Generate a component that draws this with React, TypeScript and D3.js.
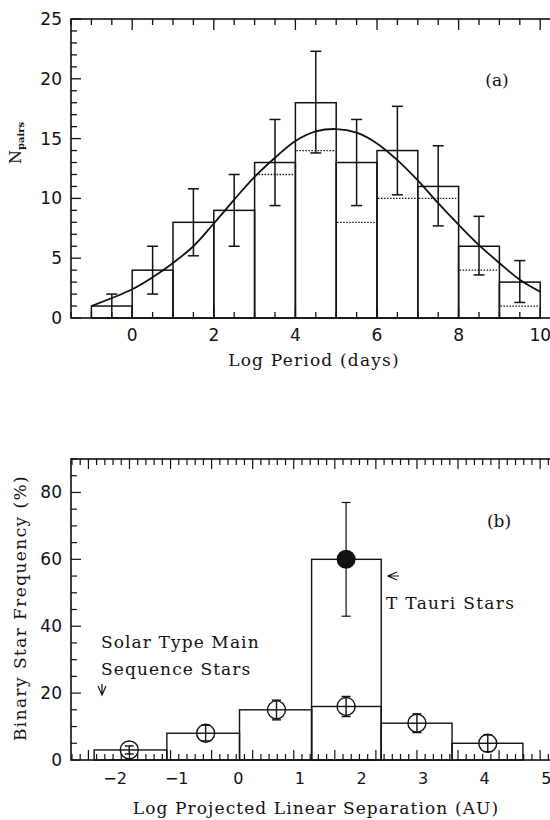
import React from "react";
import * as d3 from "d3";

// ---------- Panel (a) data ----------
const aBinEdges = [-1, 0, 1, 2, 3, 4, 5, 6, 7, 8, 9, 10];
const aCounts = [1, 4, 8, 9, 13, 18, 13, 14, 11, 6, 3];
const aDotted: (number | null)[] = [null, null, null, null, 12, 14, 8, 10, 10, 4, 1];
const aErrLo = [0, 2, 5.2, 6, 9.4, 13.8, 9.4, 10.3, 7.7, 3.6, 1.3];
const aErrHi = [2, 6, 10.8, 12, 16.6, 22.3, 16.6, 17.7, 14.4, 8.5, 4.8];
const aCurveX = [-1, 0, 0.5, 1, 1.5, 2, 2.5, 3, 3.5, 4, 4.5, 5, 5.5, 6, 6.5, 7, 7.5, 8, 8.5, 9, 9.5, 10];
const aCurveY = [1.0, 2.4, 3.4, 4.6, 6.0, 7.9, 9.9, 11.8, 13.4, 14.8, 15.6, 15.8, 15.5, 14.6, 13.2, 11.5, 9.6, 7.8, 6.1, 4.6, 3.2, 2.2];
const aXTicks = [0, 2, 4, 6, 8, 10];
const aYTicks = [0, 5, 10, 15, 20, 25];

// ---------- Panel (b) data ----------
const bBinEdges = [-2.34, -1.16, 0.02, 1.19, 2.32, 3.47, 4.62];
const bHeights = [3, 8, 15, 16, 11, 5];
const bPointX = [-1.77, -0.53, 0.62, 1.75, 2.9, 4.05];
const bPointY = [3, 8, 15, 16, 11, 5];
const bErrLo = [1.8, 5.7, 12, 13, 8.2, 2.5];
const bErrHi = [4.2, 10.4, 17.9, 19, 13.8, 7.5];
const tTauriBin = 3; // index into bins
const tTauriY = 60;
const tTauriX = 1.75;
const tTauriErr = [43, 77];
const bXTicks = [-2, -1, 0, 1, 2, 3, 4, 5];
const bYTicks = [0, 20, 40, 60, 80];

const NUM_FONT = "'DejaVu Sans', sans-serif";
const TXT_FONT = "'DejaVu Serif', serif";

export default function App() {
  // Scales panel (a)
  const xa = d3.scaleLinear().domain([-1.5, 10.5]).range([71, 71 + 12 * 40.8]);
  const ya = d3.scaleLinear().domain([0, 25]).range([318, 19]);
  // Scales panel (b)
  const xb = d3.scaleLinear().domain([0, 1]).range([238.3, 299.9]);
  const yb = d3.scaleLinear().domain([0, 90]).range([760, 459]);

  const lineA = d3
    .line<number>()
    .x((_, i) => xa(aCurveX[i]))
    .y((d) => ya(d))
    .curve(d3.curveCatmullRom);

  const stroke = "#111";

  const aMinorX = d3.range(-1.5, 10.51, 0.5);
  const aMinorY = d3.range(0, 25.01, 1);
  const bMinorX = d3.range(-2.7, 5.6, 2 / 15);
  const bMinorY = d3.range(0, 90.01, 5);

  const axLeftA = xa.range()[0];
  const axTopA = ya.range()[1];
  const axBotA = ya.range()[0];
  const axRightA = xa.range()[1];
  const axLeftB = 71;
  const axTopB = yb.range()[1];
  const axBotB = yb.range()[0];
  const axRightB = 580;

  return (
    <svg
      width={550}
      height={820}
      style={{ position: "absolute", left: 0, top: 0, background: "#fff" }}
    >
      <rect x={0} y={0} width={550} height={820} fill="#fff" />
      {/* ================= Panel (a) ================= */}
      <g>
        <rect
          x={axLeftA}
          y={axTopA}
          width={axRightA - axLeftA}
          height={axBotA - axTopA}
          fill="none"
          stroke={stroke}
          strokeWidth={1.6}
        />
        {aMinorX.map((v, i) => {
          const major = Math.abs(v / 2 - Math.round(v / 2)) < 1e-6;
          const len = major ? 11 : 6;
          return (
            <g key={"ax" + i}>
              <line x1={xa(v)} x2={xa(v)} y1={axTopA} y2={axTopA + len} stroke={stroke} strokeWidth={1.3} />
              <line x1={xa(v)} x2={xa(v)} y1={axBotA} y2={axBotA - len} stroke={stroke} strokeWidth={1.3} />
            </g>
          );
        })}
        {aMinorY.map((v, i) => {
          const major = v % 5 === 0;
          const len = major ? 10 : 6;
          return (
            <line key={"ay" + i} x1={axLeftA} x2={axLeftA + len} y1={ya(v)} y2={ya(v)} stroke={stroke} strokeWidth={1.3} />
          );
        })}
        {aXTicks.map((v) => (
          <text key={"axl" + v} x={xa(v)} y={341} textAnchor="middle" fontFamily={NUM_FONT} fontSize={17} fill={stroke}>
            {v}
          </text>
        ))}
        {aYTicks.map((v) => (
          <text key={"ayl" + v} x={62} y={ya(v) + 6} textAnchor="end" fontFamily={NUM_FONT} fontSize={17} fill={stroke}>
            {v}
          </text>
        ))}
        {aCounts.map((c, i) => (
          <rect
            key={"ab" + i}
            x={xa(aBinEdges[i])}
            y={ya(c)}
            width={xa(aBinEdges[i + 1]) - xa(aBinEdges[i])}
            height={ya(0) - ya(c)}
            fill="none"
            stroke={stroke}
            strokeWidth={1.5}
          />
        ))}
        {aDotted.map((c, i) =>
          c === null ? null : (
            <line
              key={"ad" + i}
              x1={xa(aBinEdges[i]) + 1}
              x2={xa(aBinEdges[i + 1]) - 1}
              y1={ya(c)}
              y2={ya(c)}
              stroke={stroke}
              strokeWidth={1.3}
              strokeDasharray="1.5,1.5"
            />
          )
        )}
        {aCounts.map((_, i) => {
          const cx = xa((aBinEdges[i] + aBinEdges[i + 1]) / 2);
          return (
            <g key={"ae" + i} stroke={stroke} strokeWidth={1.5}>
              <line x1={cx} x2={cx} y1={ya(aErrLo[i])} y2={ya(aErrHi[i])} />
              <line x1={cx - 5.5} x2={cx + 5.5} y1={ya(aErrLo[i])} y2={ya(aErrLo[i])} />
              <line x1={cx - 5.5} x2={cx + 5.5} y1={ya(aErrHi[i])} y2={ya(aErrHi[i])} />
            </g>
          );
        })}
        <path d={lineA(aCurveY) || ""} fill="none" stroke={stroke} strokeWidth={1.8} />
        <text x={497} y={86} textAnchor="middle" fontFamily={TXT_FONT} fontSize={17} fill={stroke}>
          (a)
        </text>
        <text x={314} y={366} textAnchor="middle" fontFamily={TXT_FONT} fontSize={17} letterSpacing={1.2} fill={stroke}>
          Log Period (days)
        </text>
        <text transform="translate(21,164) rotate(-90)" fontFamily={TXT_FONT} fontSize={16} fill={stroke}>
          N
          <tspan fontSize={10} dy={3} fontWeight="bold">
            pairs
          </tspan>
        </text>
      </g>

      {/* ================= Panel (b) ================= */}
      <g>
        <rect
          x={axLeftB}
          y={axTopB}
          width={axRightB - axLeftB}
          height={axBotB - axTopB}
          fill="none"
          stroke={stroke}
          strokeWidth={1.6}
        />
        {bMinorX.map((v, i) => {
          const major = i % 5 === 2;
          const len = major ? 10 : 6;
          return (
            <g key={"bx" + i}>
              <line x1={xb(v)} x2={xb(v)} y1={axTopB} y2={axTopB + len} stroke={stroke} strokeWidth={1.2} />
              <line x1={xb(v)} x2={xb(v)} y1={axBotB} y2={axBotB - len} stroke={stroke} strokeWidth={1.2} />
            </g>
          );
        })}
        {bMinorY.map((v, i) => {
          const major = v % 20 === 0;
          const len = major ? 10 : 6;
          return (
            <line key={"by" + i} x1={axLeftB} x2={axLeftB + len} y1={yb(v)} y2={yb(v)} stroke={stroke} strokeWidth={1.2} />
          );
        })}
        {bXTicks.map((v) => (
          <text key={"bxl" + v} x={xb(v)} y={784} textAnchor="middle" fontFamily={NUM_FONT} fontSize={16} fill={stroke}>
            {v < 0 ? "\u2212" + Math.abs(v) : v}
          </text>
        ))}
        {bYTicks.map((v) => (
          <text key={"byl" + v} x={62} y={yb(v) + 6} textAnchor="end" fontFamily={NUM_FONT} fontSize={17} fill={stroke}>
            {v}
          </text>
        ))}
        {bHeights.map((h, i) => (
          <rect
            key={"bb" + i}
            x={xb(bBinEdges[i])}
            y={yb(h)}
            width={xb(bBinEdges[i + 1]) - xb(bBinEdges[i])}
            height={yb(0) - yb(h)}
            fill="none"
            stroke={stroke}
            strokeWidth={1.4}
          />
        ))}
        <rect
          x={xb(bBinEdges[tTauriBin])}
          y={yb(tTauriY)}
          width={xb(bBinEdges[tTauriBin + 1]) - xb(bBinEdges[tTauriBin])}
          height={yb(0) - yb(tTauriY)}
          fill="none"
          stroke={stroke}
          strokeWidth={1.4}
        />
        {bPointX.map((px, i) => {
          const cx = xb(px);
          return (
            <g key={"bp" + i} stroke={stroke} strokeWidth={1.4}>
              <circle cx={cx} cy={yb(bPointY[i])} r={9} fill="none" />
              <line x1={cx} x2={cx} y1={yb(bErrLo[i])} y2={yb(bErrHi[i])} />
              <line x1={cx - 4.5} x2={cx + 4.5} y1={yb(bErrLo[i])} y2={yb(bErrLo[i])} />
              <line x1={cx - 4.5} x2={cx + 4.5} y1={yb(bErrHi[i])} y2={yb(bErrHi[i])} />
            </g>
          );
        })}
        <g stroke={stroke} strokeWidth={1.2}>
          <line x1={xb(tTauriX)} x2={xb(tTauriX)} y1={yb(tTauriErr[0])} y2={yb(tTauriErr[1])} />
          <line x1={xb(tTauriX) - 4.5} x2={xb(tTauriX) + 4.5} y1={yb(tTauriErr[0])} y2={yb(tTauriErr[0])} />
          <line x1={xb(tTauriX) - 4.5} x2={xb(tTauriX) + 4.5} y1={yb(tTauriErr[1])} y2={yb(tTauriErr[1])} />
        </g>
        <circle cx={xb(tTauriX)} cy={yb(tTauriY)} r={9.5} fill={stroke} />
        <text x={499} y={527} textAnchor="middle" fontFamily={TXT_FONT} fontSize={17} fill={stroke}>
          (b)
        </text>
        <path d="M 397 572 L 388 576 L 397 580 M 388 576 L 399 576" fill="none" stroke={stroke} strokeWidth={1.2} />
        <text x={386} y={609} fontFamily={TXT_FONT} fontSize={17} letterSpacing={1.3} fill={stroke}>
          T Tauri Stars
        </text>
        <text x={101} y={648} fontFamily={TXT_FONT} fontSize={17} letterSpacing={1.1} fill={stroke}>
          Solar Type Main
        </text>
        <text x={101} y={675} fontFamily={TXT_FONT} fontSize={17} letterSpacing={1.1} fill={stroke}>
          Sequence Stars
        </text>
        <path d="M 98 686 L 102 695 L 106 686 M 102 684 L 102 695" fill="none" stroke={stroke} strokeWidth={1.2} />
        <text x={316} y={814} textAnchor="middle" fontFamily={TXT_FONT} fontSize={17} letterSpacing={1.1} fill={stroke}>
          Log Projected Linear Separation (AU)
        </text>
        <text
          transform="translate(26,608) rotate(-90)"
          textAnchor="middle"
          fontFamily={TXT_FONT}
          fontSize={17}
          letterSpacing={1.4}
          fill={stroke}
        >
          Binary Star Frequency (%)
        </text>
      </g>
    </svg>
  );
}
